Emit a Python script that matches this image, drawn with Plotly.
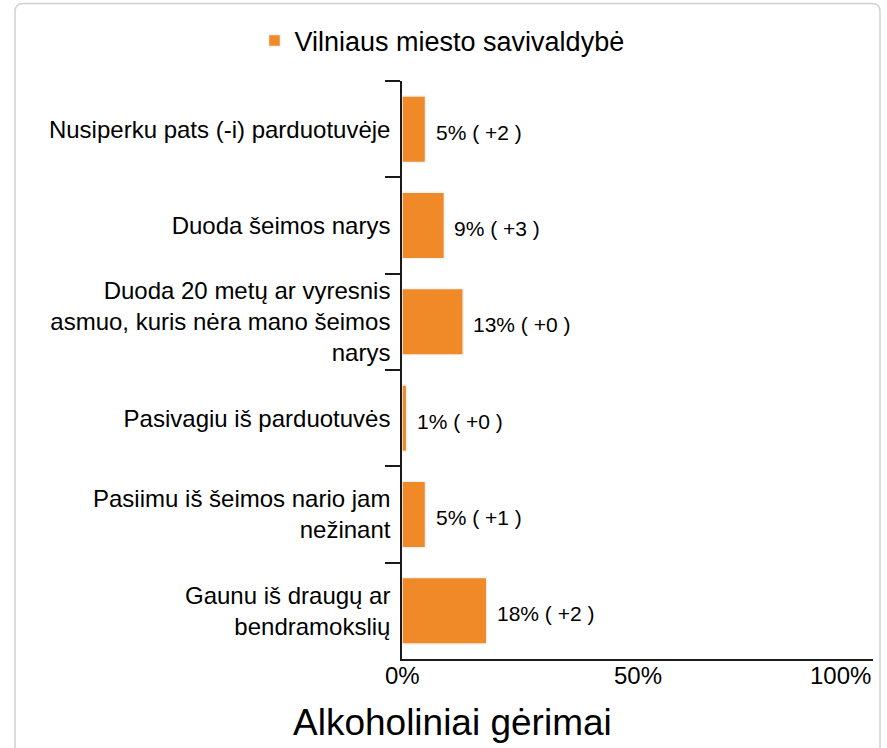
import plotly.graph_objects as go

categories = [
    "Nusiperku pats (-i) parduotuvėje",
    "Duoda šeimos narys",
    "Duoda 20 metų ar vyresnis<br>asmuo, kuris nėra mano šeimos<br>narys",
    "Pasivagiu iš parduotuvės",
    "Pasiimu iš šeimos nario jam<br>nežinant",
    "Gaunu iš draugų ar<br>bendramokslių",
]
values = [5, 9, 13, 1, 5, 18]
changes = ["+2", "+3", "+0", "+0", "+1", "+2"]
series_name = "Vilniaus miesto savivaldybė"
chart_title = "Alkoholiniai gėrimai"
x_ticks = [0, 50, 100]
x_tick_labels = ["0%", "50%", "100%"]

FONT = "Liberation Sans, Arial, Helvetica, sans-serif"
ORANGE = "#F08A28"

W, H = 887, 748
L, R, T, B = 402, 14, 81, 89
pw, ph = W - L - R, H - T - B

def px_x(p):
    return (p - L) / pw

def px_y(p):
    return (H - B - p) / ph

fig = go.Figure()
fig.add_trace(go.Bar(
    y=categories,
    x=values,
    orientation="h",
    name=series_name,
    marker=dict(color=ORANGE, line=dict(color="#f4f4f4", width=1.5)),
    width=0.69,
    hoverinfo="skip",
))

annotations = []
for c, v, ch in zip(categories, values, changes):
    annotations.append(dict(
        x=v, y=c, xref="x", yref="y", text=f"{v}% ( {ch} )",
        showarrow=False, xanchor="left", yanchor="middle", xshift=8, yshift=-3,
        font=dict(family=FONT, size=21, color="#000"),
    ))
for t, lab in zip(x_ticks, x_tick_labels):
    anchor = "center" if t < max(x_ticks) else "right"
    annotations.append(dict(
        x=t, y=0, xref="x", yref="paper", text=lab,
        showarrow=False, xanchor=anchor, yanchor="top", yshift=-1,
        font=dict(family=FONT, size=24, color="#000"),
    ))
annotations.append(dict(
    x=px_x(452), y=px_y(722), xref="paper", yref="paper", text=chart_title,
    showarrow=False, xanchor="center", yanchor="middle",
    font=dict(family=FONT, size=37, color="#000"),
))

# rounded frame
x0, x1, y0, y1, r = px_x(15), px_x(880), px_y(3.5), px_y(760), 8
rx, ry = r / pw, r / ph
path = (f"M {x0},{y1} L {x0},{y0 - ry} Q {x0},{y0} {x0 + rx},{y0} "
        f"L {x1 - rx},{y0} Q {x1},{y0} {x1},{y0 - ry} L {x1},{y1}")

fig.update_layout(
    width=W, height=H,
    margin=dict(l=L, r=R, t=T, b=B, pad=0),
    paper_bgcolor="white", plot_bgcolor="white",
    font=dict(family=FONT, color="#000"),
    showlegend=True,
    legend=dict(
        orientation="h", x=px_x(442), y=px_y(41), xanchor="center", yanchor="middle",
        font=dict(family=FONT, size=27, color="#000"),
        bgcolor="rgba(0,0,0,0)", itemwidth=30,
    ),
    xaxis=dict(
        range=[0, 100], showgrid=False, zeroline=False, showline=True,
        linecolor="#1a1a1a", linewidth=1.5, showticklabels=False, ticks="",
        fixedrange=True,
    ),
    yaxis=dict(
        autorange="reversed", showgrid=False, zeroline=False, showline=True,
        linecolor="#1a1a1a", linewidth=1.5, ticks="outside", tickson="boundaries",
        ticklen=15, tickwidth=1.5, tickcolor="#1a1a1a",
        tickfont=dict(family=FONT, size=24, color="#000"),
        ticklabelstandoff=5, fixedrange=True,
    ),
    annotations=annotations,
    shapes=[dict(type="path", xref="paper", yref="paper", path=path,
                 line=dict(color="#d2d2d2", width=1.5), layer="below")],
)

fig.write_html(
    "out.html",
    config={"displayModeBar": False},
    post_script="document.body.style.margin='0';document.body.style.padding='0';",
)
